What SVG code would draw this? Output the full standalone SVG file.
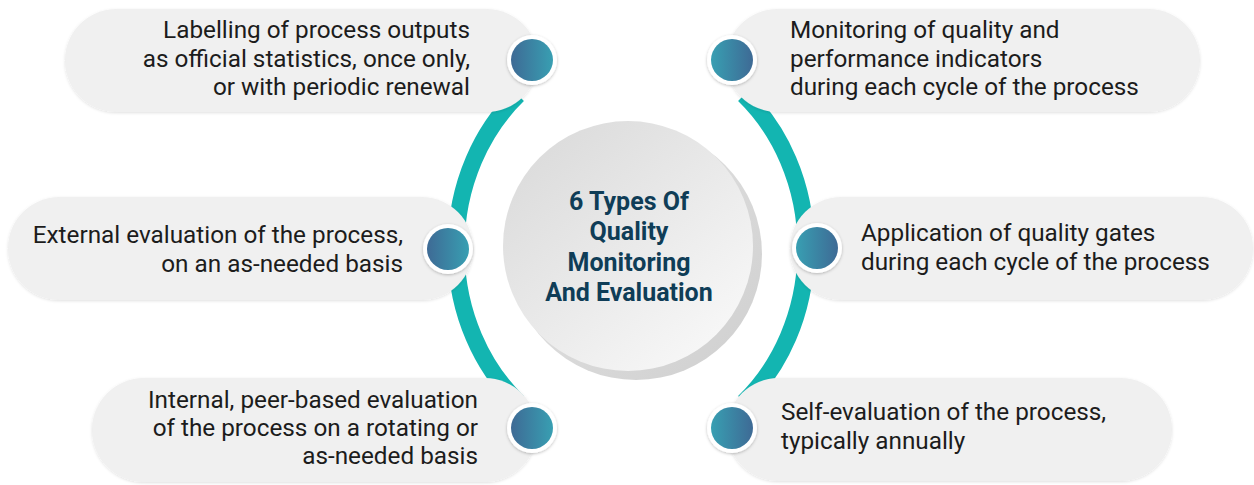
<svg xmlns="http://www.w3.org/2000/svg" width="1254" height="485" viewBox="0 0 1254 485">
<defs>
<linearGradient id="dotL" x1="0" y1="0" x2="1" y2="0"><stop offset="0" stop-color="#3e6a95"/><stop offset="1" stop-color="#389fb2"/></linearGradient>
<linearGradient id="dotR" x1="0" y1="0" x2="1" y2="0"><stop offset="0" stop-color="#389fb2"/><stop offset="1" stop-color="#3e6a95"/></linearGradient>
<linearGradient id="hub" x1="0.15" y1="0.1" x2="0.85" y2="0.9"><stop offset="0" stop-color="#dcdcdc"/><stop offset="1" stop-color="#f7f7f7"/></linearGradient>
<linearGradient id="hubShadow" x1="0" y1="0" x2="1" y2="1"><stop offset="0" stop-color="#e6e6e6"/><stop offset="1" stop-color="#cfcfcf"/></linearGradient>
<filter id="soft" x="-10%" y="-20%" width="120%" height="140%"><feDropShadow dx="0" dy="1" stdDeviation="1.5" flood-color="#000" flood-opacity="0.12"/></filter>
<filter id="dotsh" x="-30%" y="-30%" width="160%" height="160%"><feDropShadow dx="0" dy="1" stdDeviation="1.5" flood-color="#000" flood-opacity="0.25"/></filter>
</defs>
<style>
.bub{fill:#f0f0f0;filter:url(#soft)}
.t{font-family:Roboto,"Liberation Sans",sans-serif;font-size:24.3px;fill:#1c1c1c}
.e{text-anchor:end}
.title{font-family:Roboto,"Liberation Sans",sans-serif;font-size:25px;font-weight:bold;fill:#0f3d57;text-anchor:middle}
.arc{fill:none;stroke:#13b5b1;stroke-width:17}
.ring{fill:#fff;filter:url(#dotsh)}
</style>
<rect width="1254" height="485" fill="#fff"/>
<g id="connectors">
<path class="arc" d="M 518 95 A 175 201 0 0 0 518 402"/>
<path class="arc" d="M 744 95 A 175 201 0 0 1 744 402"/>
</g>
<g id="hub">
<circle cx="636" cy="254" r="126" fill="url(#hubShadow)"/>
<circle cx="628" cy="246" r="125" fill="url(#hub)"/>
<text class="title" x="629" y="210">6 Types Of</text>
<text class="title" x="629" y="240">Quality</text>
<text class="title" x="629" y="271">Monitoring</text>
<text class="title" x="629" y="301">And Evaluation</text>
</g>
<g id="n1">
<rect class="bub" x="65" y="9" width="473" height="103" rx="51.5"/>
<text class="t e" x="470" y="38">Labelling of process outputs</text>
<text class="t e" x="470" y="67">as official statistics, once only,</text>
<text class="t e" x="470" y="95">or with periodic renewal</text>
<circle class="ring" cx="532" cy="60" r="25"/><circle cx="532" cy="60" r="21" fill="url(#dotL)"/>
</g>
<g id="n2">
<rect class="bub" x="726" y="9" width="474" height="103" rx="51.5"/>
<text class="t" x="790" y="38">Monitoring of quality and</text>
<text class="t" x="790" y="67">performance indicators</text>
<text class="t" x="790" y="95">during each cycle of the process</text>
<circle class="ring" cx="732" cy="60" r="25"/><circle cx="732" cy="60" r="21" fill="url(#dotR)"/>
</g>
<g id="n3">
<rect class="bub" x="8" y="197" width="465" height="103" rx="51.5"/>
<text class="t e" x="403" y="243">External evaluation of the process,</text>
<text class="t e" x="403" y="272">on an as-needed basis</text>
<circle class="ring" cx="448" cy="249" r="25"/><circle cx="448" cy="249" r="21" fill="url(#dotL)"/>
</g>
<g id="n4">
<rect class="bub" x="790" y="197" width="463" height="103" rx="51.5"/>
<text class="t" x="861" y="241">Application of quality gates</text>
<text class="t" x="861" y="270">during each cycle of the process</text>
<circle class="ring" cx="817" cy="248" r="25"/><circle cx="817" cy="248" r="21" fill="url(#dotR)"/>
</g>
<g id="n5">
<rect class="bub" x="92" y="378" width="445" height="104" rx="52"/>
<text class="t e" x="478" y="408">Internal, peer-based evaluation</text>
<text class="t e" x="478" y="436">of the process on a rotating or</text>
<text class="t e" x="478" y="464">as-needed basis</text>
<circle class="ring" cx="532" cy="428" r="25"/><circle cx="532" cy="428" r="21" fill="url(#dotL)"/>
</g>
<g id="n6">
<rect class="bub" x="727" y="378" width="445" height="103" rx="51.5"/>
<text class="t" x="781" y="420">Self-evaluation of the process,</text>
<text class="t" x="781" y="449">typically annually</text>
<circle class="ring" cx="732" cy="428" r="25"/><circle cx="732" cy="428" r="21" fill="url(#dotR)"/>
</g>
</svg>
